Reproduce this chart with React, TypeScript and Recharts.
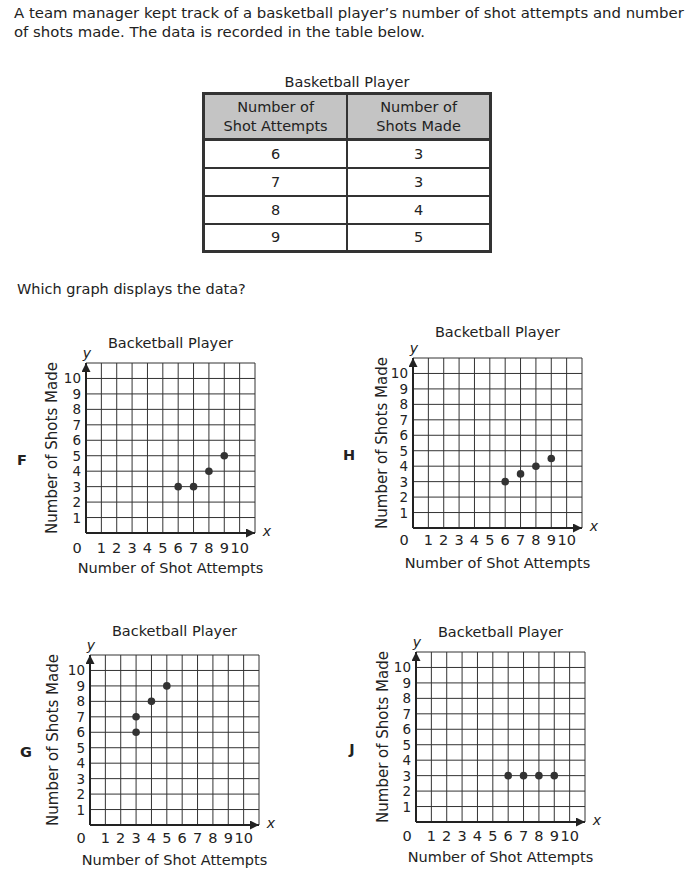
import React from 'react';
import { ScatterChart, Scatter, XAxis, YAxis, CartesianGrid } from 'recharts';

// ---------- data ----------
const introLines = [
  'A team manager kept track of a basketball player\u2019s number of shot attempts and number',
  'of shots made. The data is recorded in the table below.',
];
const question = 'Which graph displays the data?';
const tableTitle = 'Basketball Player';
const tableHeaders = [
  ['Number of', 'Shot Attempts'],
  ['Number of', 'Shots Made'],
];
const shotAttempts = [6, 7, 8, 9];
const shotsMade = [3, 3, 4, 5];

const chartTitle = 'Backetball Player';
const xAxisTitle = 'Number of Shot Attempts';
const yAxisTitle = 'Number of Shots Made';
const gridTicks = [0, 1, 2, 3, 4, 5, 6, 7, 8, 9, 10, 11];
const xTickLabels = [0, 1, 2, 3, 4, 5, 6, 7, 8, 9, 10];
const yTickLabels = [1, 2, 3, 4, 5, 6, 7, 8, 9, 10];

const optionLetters = ['F', 'H', 'G', 'J'];
const optionFX = [6, 7, 8, 9];
const optionFY = [3, 3, 4, 5];
const optionHX = [6, 7, 8, 9];
const optionHY = [3, 3.5, 4, 4.5];
const optionGX = [3, 3, 4, 5];
const optionGY = [6, 7, 8, 9];
const optionJX = [6, 7, 8, 9];
const optionJY = [3, 3, 3, 3];

// ---------- layout ----------
const FONT = '"DejaVu Sans", Verdana, sans-serif';
const INK = '#222';
const PL = 90; // plot left inside svg
const PT = 45; // plot top inside svg
const PW = 169;
const PH = 170;

type Layout = {
  plotX: number;
  plotY: number;
  titleDy: number;
  tickDy: number;
  yTitleDx: number;
};

const layoutF: Layout = { plotX: 86, plotY: 363, titleDy: -20, tickDy: 15, yTitleDx: -34 };
const layoutH: Layout = { plotX: 413, plotY: 358, titleDy: -26, tickDy: 12, yTitleDx: -31 };
const layoutG: Layout = { plotX: 90, plotY: 655, titleDy: -24, tickDy: 13, yTitleDx: -37 };
const layoutJ: Layout = { plotX: 416, plotY: 652, titleDy: -20, tickDy: 14, yTitleDx: -33 };

function OptionChart({ id, letter, xs, ys, layout }: { id: string; letter: string; xs: number[]; ys: number[]; layout: Layout }) {
  const data = xs.map((x, i) => ({ x, y: ys[i] }));
  const bottom = PT + PH;
  const xTick = (p: any) => {
    const v = p.payload.value;
    if (!xTickLabels.includes(v)) return <g />;
    const x = v === 0 ? p.x - 9 : p.x;
    return (
      <text x={x} y={bottom + layout.tickDy} textAnchor="middle" dominantBaseline="central" fontSize={14.5} fill={INK} fontFamily={FONT}>
        {v}
      </text>
    );
  };
  const yTick = (p: any) => {
    const v = p.payload.value;
    if (!yTickLabels.includes(v)) return <g />;
    return (
      <text x={PL - 5} y={p.y} textAnchor="end" dominantBaseline="central" fontSize={13.5} fill={INK} fontFamily={FONT}>
        {v}
      </text>
    );
  };
  const yTitleX = PL + layout.yTitleDx;
  const yTitleY = PT + PH / 2;
  return (
    <div style={{ position: 'absolute', left: layout.plotX - PL, top: layout.plotY - PT }}>
      <ScatterChart width={300} height={270} margin={{ top: PT, right: 300 - PL - PW, bottom: 0, left: 0 }}>
        <defs>
          <marker id={`arrow-${id}`} viewBox="0 0 10 10" refX="10" refY="5" markerWidth="11" markerHeight="9" markerUnits="userSpaceOnUse" orient="auto-start-reverse">
            <path d="M0,0 L10,5 L0,10 z" fill={INK} />
          </marker>
        </defs>
        <CartesianGrid stroke="#333" strokeWidth={1} />
        <XAxis
          type="number"
          dataKey="x"
          domain={[0, 11]}
          ticks={gridTicks}
          interval={0}
          height={270 - PT - PH}
          tickLine={false}
          tick={xTick}
          axisLine={{ stroke: INK, strokeWidth: 2, markerEnd: `url(#arrow-${id})` }}
        />
        <YAxis
          type="number"
          dataKey="y"
          domain={[0, 11]}
          ticks={gridTicks}
          interval={0}
          width={PL}
          tickLine={false}
          tick={yTick}
          axisLine={{ stroke: INK, strokeWidth: 2, markerStart: `url(#arrow-${id})` }}
        />
        <Scatter
          data={data}
          isAnimationActive={false}
          shape={(p: any) => <circle cx={p.cx} cy={p.cy} r={3.8} fill="#333" />}
        />
        <text x={PL + PW / 2} y={PT + layout.titleDy} textAnchor="middle" dominantBaseline="central" fontSize={14.5} fill={INK} fontFamily={FONT}>
          {chartTitle}
        </text>
        <text x={PL + PW / 2} y={bottom + 35} textAnchor="middle" dominantBaseline="central" fontSize={14.5} fill={INK} fontFamily={FONT}>
          {xAxisTitle}
        </text>
        <text
          x={yTitleX}
          y={yTitleY}
          transform={`rotate(-90, ${yTitleX}, ${yTitleY})`}
          textAnchor="middle"
          dominantBaseline="central"
          fontSize={15}
          fill={INK}
          fontFamily={FONT}
        >
          {yAxisTitle}
        </text>
        <text x={PL + 1} y={PT - 10} textAnchor="middle" dominantBaseline="central" fontSize={14} fontStyle="italic" fill={INK} fontFamily={FONT}>
          y
        </text>
        <text x={PL + PW + 12} y={bottom - 2} textAnchor="middle" dominantBaseline="central" fontSize={14} fontStyle="italic" fill={INK} fontFamily={FONT}>
          x
        </text>
        <text x={PL - 64} y={PT + PH / 2 + 12} textAnchor="middle" dominantBaseline="central" fontSize={14.5} fontWeight="bold" fill={INK} fontFamily={FONT}>
          {letter}
        </text>
      </ScatterChart>
    </div>
  );
}

export default function App() {
  const cellBorder = '2px solid #333';
  return (
    <div style={{ position: 'absolute', left: 0, top: 0, width: 690, height: 884, background: '#fff', fontFamily: FONT, color: INK, overflow: 'hidden' }}>
      {introLines.map((line, i) => (
        <div key={i} style={{ position: 'absolute', left: 14, top: 4 + i * 19, fontSize: 14.9, lineHeight: '18px', whiteSpace: 'nowrap' }}>
          {line}
        </div>
      ))}
      <div style={{ position: 'absolute', left: 202, top: 73, width: 290, textAlign: 'center', fontSize: 14.5, lineHeight: '18px' }}>{tableTitle}</div>
      <table
        style={{
          position: 'absolute',
          left: 202,
          top: 92,
          width: 290,
          borderCollapse: 'collapse',
          border: '3px solid #333',
          fontSize: 14.5,
          textAlign: 'center',
          fontFamily: FONT,
          color: INK,
        }}
      >
        <thead>
          <tr style={{ height: 46, background: '#c4c4c4' }}>
            {tableHeaders.map((h, i) => (
              <th key={i} style={{ border: cellBorder, borderBottom: '3px solid #333', fontWeight: 'normal', padding: 0, lineHeight: '19px', width: 145 }}>
                {h[0]}
                <br />
                {h[1]}
              </th>
            ))}
          </tr>
        </thead>
        <tbody>
          {shotAttempts.map((a, i) => (
            <tr key={i} style={{ height: 28 }}>
              <td style={{ border: cellBorder, padding: 0 }}>{a}</td>
              <td style={{ border: cellBorder, padding: 0 }}>{shotsMade[i]}</td>
            </tr>
          ))}
        </tbody>
      </table>
      <div style={{ position: 'absolute', left: 17, top: 280, fontSize: 14.5, lineHeight: '18px', whiteSpace: 'nowrap' }}>{question}</div>

      <OptionChart id="F" letter={optionLetters[0]} xs={optionFX} ys={optionFY} layout={layoutF} />
      <OptionChart id="H" letter={optionLetters[1]} xs={optionHX} ys={optionHY} layout={layoutH} />
      <OptionChart id="G" letter={optionLetters[2]} xs={optionGX} ys={optionGY} layout={layoutG} />
      <OptionChart id="J" letter={optionLetters[3]} xs={optionJX} ys={optionJY} layout={layoutJ} />
    </div>
  );
}
